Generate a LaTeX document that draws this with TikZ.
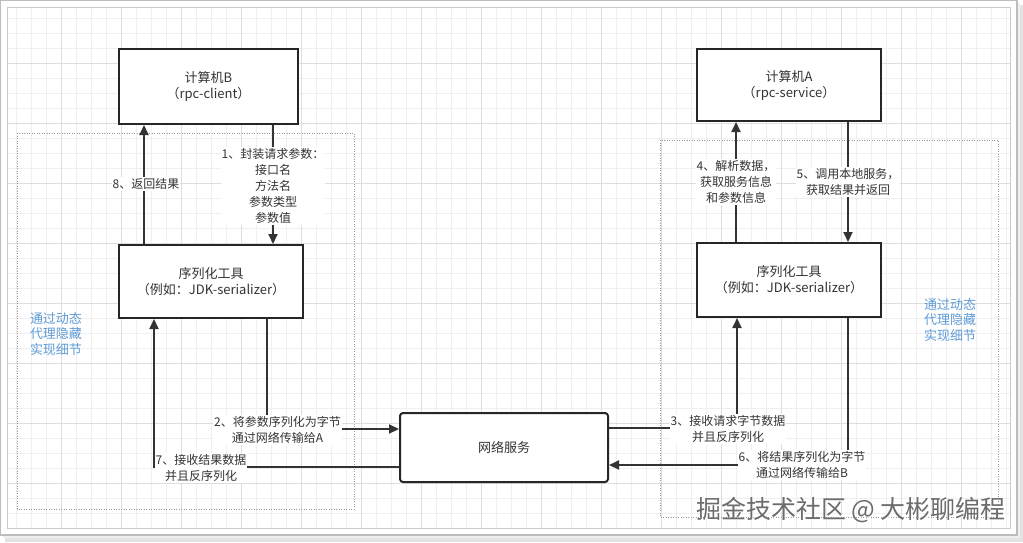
\documentclass[tikz,border=0pt]{standalone}
\usepackage{fontspec}
\setmainfont{Noto Sans CJK SC}
\usetikzlibrary{arrows.meta}
\definecolor{ink}{HTML}{333333}
\definecolor{boxline}{HTML}{262626}
\definecolor{gridminor}{HTML}{EFEFEF}
\definecolor{gridmajor}{HTML}{DEDEDE}
\definecolor{noteblue}{RGB}{95,155,215}
\definecolor{framegray}{HTML}{BDBDBD}
\tikzset{
  box/.style={draw=boxline, line width=2pt, fill=white, align=center, inner sep=0pt,
    font=\fontsize{13}{16}\selectfont, text=ink},
  arr/.style={draw=ink, line width=2pt, -{Triangle[length=10pt,width=9pt]}},
  lbl/.style={fill=white, inner sep=1pt, align=center, font=\fontsize{12}{16}\selectfont, text=ink},
  note/.style={align=left, font=\fontsize{13}{15.5}\selectfont, text=noteblue},
  zone/.style={draw=gray!80, line width=1pt, dash pattern=on 1pt off 1.5pt},
}
\begin{document}
\begin{tikzpicture}[x=1pt,y=-1pt]
\useasboundingbox (0,0) rectangle (1023,542);
% shadow and frame
\fill[gray!22] (5,5) rectangle (1023,542);
\fill[gray!12] (3,3) rectangle (1020,538);
\filldraw[fill=white, draw=framegray, line width=1.2pt] (0.6,0.6) rectangle (1017,535);
% grid
\begin{scope}
\clip (7,7) rectangle (1010,528);
\foreach \i in {0,...,67} {
  \pgfmathsetmacro{\xx}{1.7+15*\i}
  \draw[gridminor, line width=0.8pt] (\xx,7) -- (\xx,528);
}
\foreach \i in {0,...,35} {
  \pgfmathsetmacro{\yy}{3.3+15*\i}
  \draw[gridminor, line width=0.8pt] (7,\yy) -- (1010,\yy);
}
\foreach \i in {0,...,17} {
  \pgfmathsetmacro{\xx}{1.7+60*\i}
  \draw[gridmajor, line width=0.8pt] (\xx,7) -- (\xx,528);
}
\foreach \i in {0,...,9} {
  \pgfmathsetmacro{\yy}{3.3+60*\i}
  \draw[gridmajor, line width=0.8pt] (7,\yy) -- (1010,\yy);
}
\end{scope}
\draw[framegray!80, line width=1pt] (7,7) rectangle (1010,528);

% dotted zones
\draw[zone] (17,133) rectangle (354,509);
\draw[zone] (660,140) rectangle (998,517);

% nodes
\node[box, minimum width=179pt, minimum height=75pt] (compB) at (208.5,86.5) {计算机B\\（rpc-client）};
\node[box, minimum width=184pt, minimum height=73pt] (serL) at (211,281.5) {序列化工具\\（例如：JDK-serializer）};
\node[box, minimum width=184pt, minimum height=72pt] (compA) at (789,85) {计算机A\\（rpc-service）};
\node[box, minimum width=184pt, minimum height=74pt] (serR) at (789,280) {序列化工具\\（例如：JDK-serializer）};
\node[box, rounded corners=3pt, minimum width=208pt, minimum height=69pt] (net) at (504,447.5) {网络服务};

% connector positions
\coordinate (c8) at (144,0);
\coordinate (c1) at (273,0);
\coordinate (c2) at (267,429);
\coordinate (c7) at (154,467);
\coordinate (c3) at (737,428);
\coordinate (c6) at (848,465);
\coordinate (c4) at (736,0);
\coordinate (c5) at (848,0);

\draw[arr] (serL.north -| c8) -- (compB.south -| c8);
\draw[arr] (compB.south -| c1) -- (serL.north -| c1);
\draw[arr] (serL.south -| c2) |- (net.west |- c2);
\draw[arr] (net.west |- c7) -| (serL.south -| c7);
\draw[arr] (net.east |- c3) -| (serR.south -| c3);
\draw[arr] (serR.south -| c6) |- (net.east |- c6);
\draw[arr] (serR.north -| c4) -- (compA.south -| c4);
\draw[arr] (compA.south -| c5) -- (serR.north -| c5);

% labels
\node[lbl] (l8) at (146,184) {8、返回结果};
\node[lbl] (l1) at (273,186) {1、封装请求参数：\\接口名\\方法名\\参数类型\\参数值};
\node[lbl] (l2) at (277.5,430) {2、将参数序列化为字节\\通过网络传输给A};
\node[lbl] (l7) at (201,468) {7、接收结果数据\\并且反序列化};
\node[lbl] (l3) at (728,429) {3、接收请求字节数据\\并且反序列化};
\node[lbl] (l6) at (802,465) {6、将结果序列化为字节\\通过网络传输给B};
\node[lbl] (l4) at (736,182) {4、解析数据，\\获取服务信息\\和参数信息};
\node[lbl] (l5) at (848,182) {5、调用本地服务，\\获取结果并返回};

% notes
\node[note] (nL) at (56,334) {通过动态\\代理隐藏\\实现细节};
\node[note] (nR) at (950,320) {通过动态\\代理隐藏\\实现细节};

% watermark
\node[text=white, font=\fontsize{25}{28}\selectfont] at (852,511) {掘金技术社区 @ 大彬聊编程};
\node[text=gray!85!black, font=\fontsize{25}{28}\selectfont] (wm) at (851,510) {掘金技术社区 @ 大彬聊编程};
\end{tikzpicture}
\end{document}
